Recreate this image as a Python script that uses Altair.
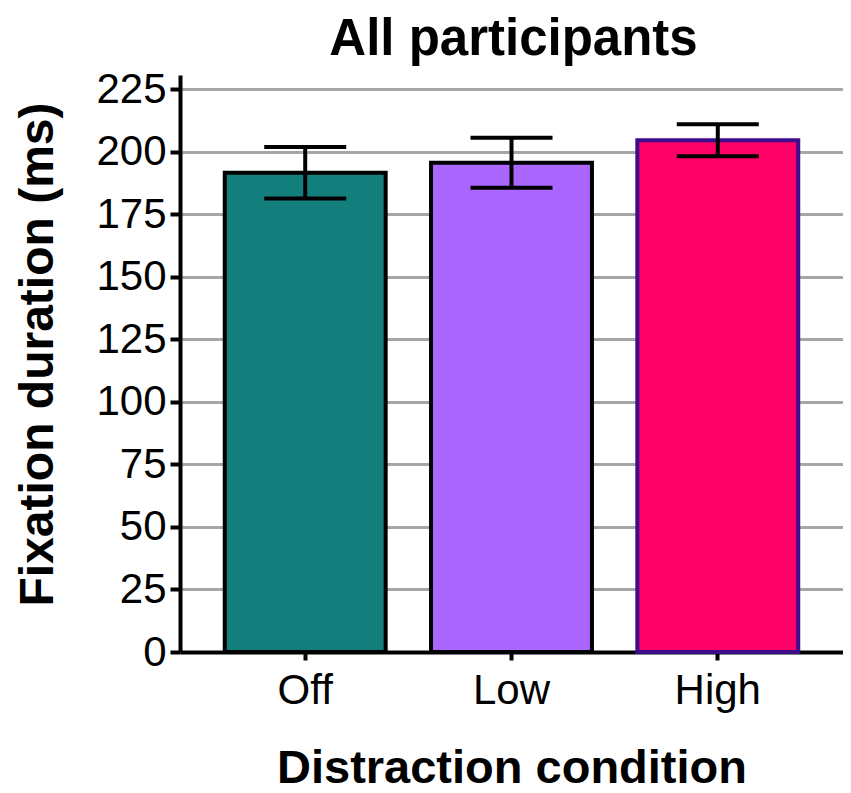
import altair as alt
import pandas as pd

title_text = ["All participants"]
conditions = ["Off", "Low", "High"]
means = [191.5, 195.5, 204.5]
sems = [10.3, 10.0, 6.4]
fills = ["#137F7D", "#AA66FF", "#FF0066"]
strokes = ["#000000", "#000000", "#3D0C8C"]
y_ticks = [0, 25, 50, 75, 100, 125, 150, 175, 200, 225]

df = pd.DataFrame({
    "condition": conditions,
    "mean": means,
    "lo": [m - s for m, s in zip(means, sems)],
    "hi": [m + s for m, s in zip(means, sems)],
})

FONT = "Liberation Sans, Arial, Helvetica, sans-serif"
W, H = 663, 577

x_enc = alt.X(
    "condition:N",
    sort=conditions,
    scale=alt.Scale(paddingInner=0.22, paddingOuter=0.217),
    axis=alt.Axis(
        title="Distraction condition",
        labelAngle=0,
        labelFont=FONT,
        labelFontSize=42,
        labelColor="black",
        labelPadding=10,
        tickSize=8,
        tickWidth=4,
        tickColor="black",
        domainColor="black",
        domainWidth=4,
        titleFont=FONT,
        titleFontSize=47,
        titleFontWeight="bold",
        titleColor="black",
        titleY=130,
        titleBaseline="alphabetic",
    ),
)

y_scale = alt.Scale(domain=[0, 230.6], nice=False, zero=True)

bars = alt.Chart(df).mark_bar(strokeWidth=4).encode(
    x=x_enc,
    y=alt.Y(
        "mean:Q",
        scale=y_scale,
        axis=alt.Axis(
            title="Fixation duration (ms)",
            values=y_ticks,
            grid=True,
            gridColor="#A6A6A6",
            gridWidth=3,
            domainColor="black",
            domainWidth=4,
            tickColor="black",
            tickWidth=4,
            tickSize=10,
            labelFont=FONT,
            labelFontSize=42,
            labelColor="black",
            labelPadding=4,
            titleFont=FONT,
            titleFontSize=48,
            titleFontWeight="bold",
            titleColor="black",
            titleX=-142,
            titleY=279,
            titleBaseline="middle",
            titleAlign="center",
        ),
    ),
    fill=alt.Fill("condition:N", scale=alt.Scale(domain=conditions, range=fills), legend=None),
    stroke=alt.Stroke("condition:N", scale=alt.Scale(domain=conditions, range=strokes), legend=None),
)

err = alt.Chart(df).mark_rule(strokeWidth=4, color="black").encode(
    x=alt.X("condition:N", sort=conditions),
    y=alt.Y("lo:Q", scale=y_scale),
    y2="hi:Q",
)

cap_hi = alt.Chart(df).mark_tick(size=82, thickness=4, color="black", opacity=1).encode(
    x=alt.X("condition:N", sort=conditions),
    y=alt.Y("hi:Q", scale=y_scale),
)
cap_lo = alt.Chart(df).mark_tick(size=82, thickness=4, color="black", opacity=1).encode(
    x=alt.X("condition:N", sort=conditions),
    y=alt.Y("lo:Q", scale=y_scale),
)

title = alt.Chart(pd.DataFrame({"t": title_text})).mark_text(
    font=FONT,
    fontSize=51,
    fontWeight="bold",
    color="black",
    align="center",
    baseline="alphabetic",
).encode(
    text="t:N",
    x=alt.value(W / 2 + 2),
    y=alt.value(-20),
)

chart = alt.layer(bars, err, cap_hi, cap_lo, title).properties(
    width=W,
    height=H,
    background="white",
    autosize=alt.AutoSizeParams(type="none"),
    padding={"left": 172, "top": 67, "right": 0, "bottom": 141},
).configure_view(strokeWidth=0)

chart.save("out.html", embed_options={"renderer": "svg", "actions": False})
